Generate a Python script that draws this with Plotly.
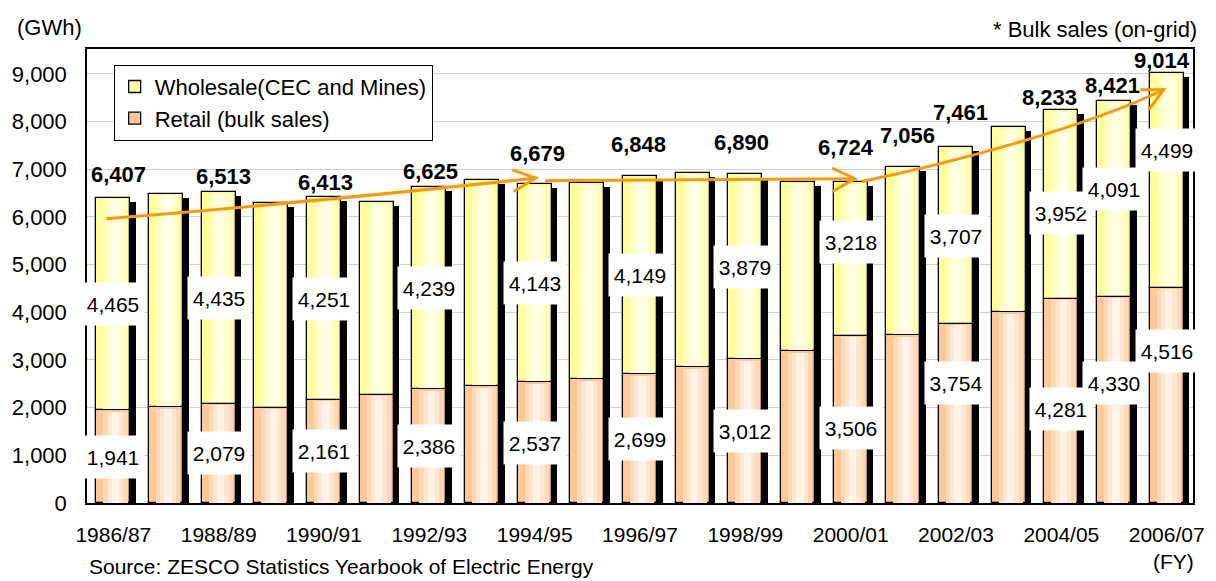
import plotly.graph_objects as go

# ---- data (GWh) ----
years = ["1986/87", "1987/88", "1988/89", "1989/90", "1990/91", "1991/92", "1992/93",
         "1993/94", "1994/95", "1995/96", "1996/97", "1997/98", "1998/99", "1999/00",
         "2000/01", "2001/02", "2002/03", "2003/04", "2004/05", "2005/06", "2006/07"]
retail = [1941, 2010, 2079, 2000, 2161, 2270, 2386, 2445, 2537, 2600, 2699,
          2850, 3012, 3180, 3506, 3515, 3754, 3995, 4281, 4330, 4516]
wholesale = [4465, 4480, 4435, 4290, 4251, 4040, 4239, 4325, 4143, 4100, 4149,
             4070, 3879, 3560, 3218, 3541, 3707, 3885, 3952, 4091, 4499]

total_years = ["1986/87", "1988/89", "1990/91", "1992/93", "1994/95", "1996/97", "1998/99",
               "2000/01", "2001/02", "2002/03", "2004/05", "2005/06", "2006/07"]
total_values = [6407, 6513, 6413, 6625, 6679, 6848, 6890, 6724, 7056, 7461, 8233, 8421, 9014]

labelled_years = ["1986/87", "1988/89", "1990/91", "1992/93", "1994/95", "1996/97",
                  "1998/99", "2000/01", "2002/03", "2004/05", "2005/06", "2006/07"]
tick_years = years[::2]

# ---- label placement tweaks (pixels) ----
total_shift = {"1986/87": (5, 23), "1988/89": (5, 16), "1990/91": (1, 15), "1992/93": (1, 16),
               "1994/95": (3, 31), "1996/97": (-2, 32), "1998/99": (-4, 32), "2000/01": (-5, 35),
               "2001/02": (4, 31), "2002/03": (4, 35), "2004/05": (-12, 13), "2005/06": (-2, 16),
               "2006/07": (-5, 13)}
retail_shift = {"2000/01": -9, "2002/03": 30, "2004/05": -8, "2005/06": 17, "2006/07": 44}
wholesale_shift = {"2000/01": 17, "2004/05": -8, "2005/06": 10, "2006/07": 30}

FONT = "Arial, Liberation Sans, sans-serif"
BAR_W = 0.64
Y_MAX = 9520
GWH_PER_PX = Y_MAX / 454
CAT_PER_PX = 21 / 1119

x = list(range(len(years)))
tops = [r + w for r, w in zip(retail, wholesale)]
inset = 1.5 * GWH_PER_PX

fig = go.Figure()

# drop shadow behind each column
fig.add_trace(go.Bar(
    x=[i + 6 * CAT_PER_PX for i in x], y=[t - 4 * GWH_PER_PX for t in tops], base=0,
    width=BAR_W, marker=dict(color="black", line=dict(width=0)),
    showlegend=False, hoverinfo="skip"))

# stacked columns
fig.add_trace(go.Bar(
    x=x, y=retail, base=0, width=BAR_W, name="Retail (bulk sales)",
    marker=dict(color="#FFC996", line=dict(color="black", width=1.3)), hoverinfo="skip"))
fig.add_trace(go.Bar(
    x=x, y=wholesale, base=retail, width=BAR_W, name="Wholesale(CEC and Mines)",
    marker=dict(color="#FFFF99", line=dict(color="black", width=1.3)), hoverinfo="skip"))

# horizontal shading bands inside each column
bands = [(0.46, "#FFD8B4", "#FFFFB8"), (0.30, "#FFE6CE", "#FFFFD0"), (0.14, "#FFF2E6", "#FFFFE8")]
for w, c_ret, c_whl in bands:
    fig.add_trace(go.Bar(
        x=[i + 0.04 for i in x], y=[r - inset for r in retail], base=0, width=w,
        marker=dict(color=c_ret, line=dict(width=0)), showlegend=False, hoverinfo="skip"))
    fig.add_trace(go.Bar(
        x=[i + 0.04 for i in x], y=[v - 2 * inset for v in wholesale],
        base=[r + inset for r in retail], width=w,
        marker=dict(color=c_whl, line=dict(width=0)), showlegend=False, hoverinfo="skip"))

annotations = []
# segment value boxes
for yr in labelled_years:
    i = years.index(yr)
    annotations.append(dict(
        x=i, y=retail[i] / 2, text=f"{retail[i]:,}", showarrow=False,
        bgcolor="white", width=60, height=40, font=dict(family=FONT, size=21, color="black"),
        yshift=retail_shift.get(yr, 0)))
    annotations.append(dict(
        x=i, y=retail[i] + wholesale[i] / 2, text=f"{wholesale[i]:,}", showarrow=False,
        bgcolor="white", width=60, height=40, font=dict(family=FONT, size=21, color="black"),
        yshift=wholesale_shift.get(yr, 0)))

# column totals
for yr, val in zip(total_years, total_values):
    i = years.index(yr)
    dx, dy = total_shift[yr]
    annotations.append(dict(
        x=i, y=tops[i], text=f"<b>{val:,}</b>", showarrow=False, yanchor="middle",
        xshift=dx, yshift=dy, font=dict(family=FONT, size=22, color="black")))

# free text
txt = dict(family=FONT, size=22, color="black")
annotations += [
    dict(xref="paper", yref="paper", x=-0.0652, y=1.048, xanchor="left", yanchor="middle",
         text="(GWh)", showarrow=False, font=txt),
    dict(xref="paper", yref="paper", x=1.0054, y=1.042, xanchor="right", yanchor="middle",
         text="* Bulk sales (on-grid)", showarrow=False, font=txt),
    dict(xref="paper", yref="paper", x=0.0, y=-0.140, xanchor="left", yanchor="middle",
         text="Source: ZESCO Statistics Yearbook of Electric Energy", showarrow=False,
         font=dict(family=FONT, size=21, color="black")),
    dict(xref="paper", yref="paper", x=0.982, y=-0.129, xanchor="center", yanchor="middle",
         text="(FY)", showarrow=False, font=dict(family=FONT, size=21, color="black")),
]

# trend arrows
ORANGE = "#FF9900"
arrow_paths = [
    "M -0.13,5960 Q 4.0,6330 8.02,6813",
    "M 7.57,6987 L 8.02,6813 L 7.60,6532",
    "M 8.20,6757 L 14.08,6799",
    "M 13.65,7023 L 14.08,6799 L 13.65,6532",
    "M 14.21,6742 C 16.0,7150 18.5,7900 19.94,8665",
    "M 19.50,8665 L 19.94,8665 L 19.66,8245",
]
shapes = [dict(type="path", xref="x", yref="y", path=p, layer="above",
               line=dict(color=ORANGE, width=3)) for p in arrow_paths]

fig.update_layout(
    width=1216, height=581,
    margin=dict(l=83, r=14, t=49, b=78),
    paper_bgcolor="white", plot_bgcolor="white",
    barmode="overlay", bargap=0,
    font=dict(family=FONT, size=22, color="black"),
    showlegend=True,
    legend=dict(x=0.0241, y=0.9654, xanchor="left", yanchor="top",
                bgcolor="white", bordercolor="black", borderwidth=1,
                traceorder="reversed", font=dict(family=FONT, size=22, color="black")),
    annotations=annotations,
    shapes=shapes,
    xaxis=dict(range=[-0.5, 20.5], tickmode="array", tickvals=[years.index(t) for t in tick_years],
               ticktext=tick_years, showgrid=False, zeroline=False,
               showline=True, linecolor="black", linewidth=1.5, mirror=True, ticks="",
               tickfont=dict(family=FONT, size=21), ticklabelstandoff=12),
    yaxis=dict(range=[0, Y_MAX], dtick=1000, tickformat=",", showgrid=True,
               gridcolor="#D0D0D0", gridwidth=1, zeroline=False,
               showline=True, linecolor="black", linewidth=1.5, mirror=True, ticks="",
               tickfont=dict(family=FONT, size=22), ticklabelstandoff=14),
    hovermode=False,
)

fig.write_html("out.html")
